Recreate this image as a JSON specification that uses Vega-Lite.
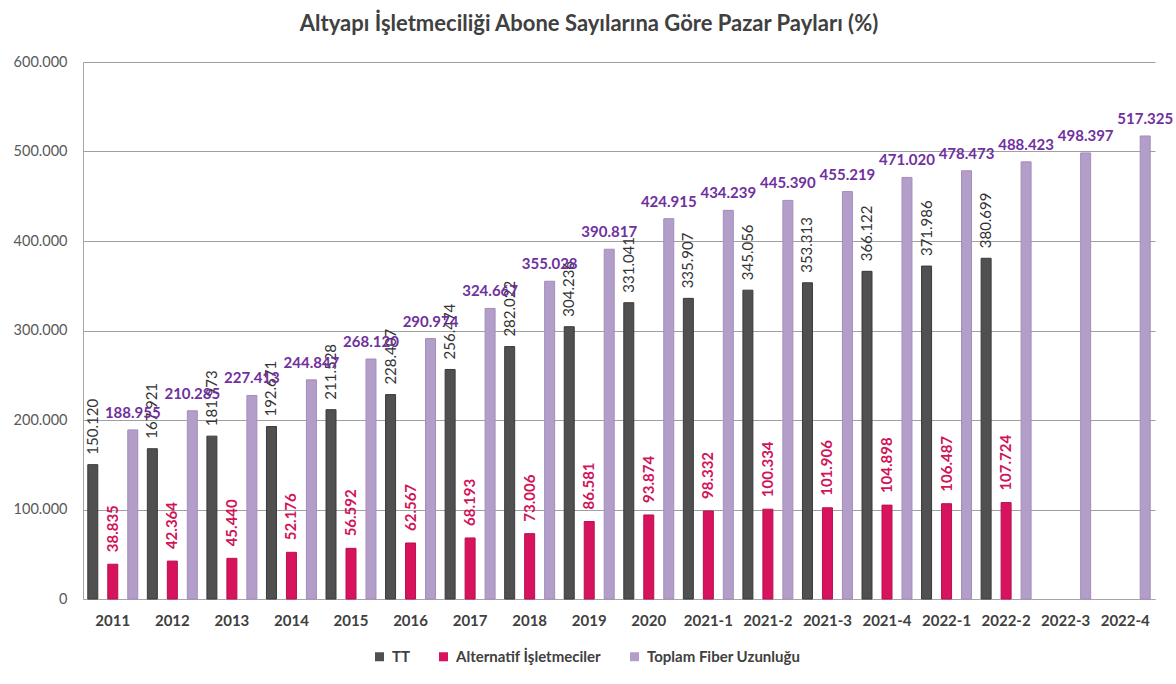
{
  "$schema": "https://vega.github.io/schema/vega-lite/v6.json",
  "autosize": "none",
  "width": 1072,
  "height": 537,
  "padding": {"left": 83, "top": 62, "right": 21, "bottom": 85},
  "background": "white",
  "title": {
    "text": "Altyapı İşletmeciliği Abone Sayılarına Göre Pazar Payları (%)",
    "anchor": "middle",
    "frame": "group",
    "dx": -30,
    "offset": 18,
    "font": "Lato",
    "fontSize": 22,
    "fontWeight": "bold",
    "color": "#404040"
  },
  "config": {
    "locale": {"number": {"decimal": ",", "thousands": ".", "grouping": [3], "currency": ["", ""]}},
    "view": {"stroke": null},
    "font": "Lato"
  },
  "datasets": {
    "rows": [
      {"period": "2011", "series": "TT", "value": 150120},
      {"period": "2012", "series": "TT", "value": 167921},
      {"period": "2013", "series": "TT", "value": 181973},
      {"period": "2014", "series": "TT", "value": 192671},
      {"period": "2015", "series": "TT", "value": 211528},
      {"period": "2016", "series": "TT", "value": 228407},
      {"period": "2017", "series": "TT", "value": 256474},
      {"period": "2018", "series": "TT", "value": 282022},
      {"period": "2019", "series": "TT", "value": 304236},
      {"period": "2020", "series": "TT", "value": 331041},
      {"period": "2021-1", "series": "TT", "value": 335907},
      {"period": "2021-2", "series": "TT", "value": 345056},
      {"period": "2021-3", "series": "TT", "value": 353313},
      {"period": "2021-4", "series": "TT", "value": 366122},
      {"period": "2022-1", "series": "TT", "value": 371986},
      {"period": "2022-2", "series": "TT", "value": 380699},
      {"period": "2011", "series": "Alternatif İşletmeciler", "value": 38835},
      {"period": "2012", "series": "Alternatif İşletmeciler", "value": 42364},
      {"period": "2013", "series": "Alternatif İşletmeciler", "value": 45440},
      {"period": "2014", "series": "Alternatif İşletmeciler", "value": 52176},
      {"period": "2015", "series": "Alternatif İşletmeciler", "value": 56592},
      {"period": "2016", "series": "Alternatif İşletmeciler", "value": 62567},
      {"period": "2017", "series": "Alternatif İşletmeciler", "value": 68193},
      {"period": "2018", "series": "Alternatif İşletmeciler", "value": 73006},
      {"period": "2019", "series": "Alternatif İşletmeciler", "value": 86581},
      {"period": "2020", "series": "Alternatif İşletmeciler", "value": 93874},
      {"period": "2021-1", "series": "Alternatif İşletmeciler", "value": 98332},
      {"period": "2021-2", "series": "Alternatif İşletmeciler", "value": 100334},
      {"period": "2021-3", "series": "Alternatif İşletmeciler", "value": 101906},
      {"period": "2021-4", "series": "Alternatif İşletmeciler", "value": 104898},
      {"period": "2022-1", "series": "Alternatif İşletmeciler", "value": 106487},
      {"period": "2022-2", "series": "Alternatif İşletmeciler", "value": 107724},
      {"period": "2011", "series": "Toplam Fiber Uzunluğu", "value": 188955},
      {"period": "2012", "series": "Toplam Fiber Uzunluğu", "value": 210285},
      {"period": "2013", "series": "Toplam Fiber Uzunluğu", "value": 227413},
      {"period": "2014", "series": "Toplam Fiber Uzunluğu", "value": 244847},
      {"period": "2015", "series": "Toplam Fiber Uzunluğu", "value": 268120},
      {"period": "2016", "series": "Toplam Fiber Uzunluğu", "value": 290974},
      {"period": "2017", "series": "Toplam Fiber Uzunluğu", "value": 324667},
      {"period": "2018", "series": "Toplam Fiber Uzunluğu", "value": 355028},
      {"period": "2019", "series": "Toplam Fiber Uzunluğu", "value": 390817},
      {"period": "2020", "series": "Toplam Fiber Uzunluğu", "value": 424915},
      {"period": "2021-1", "series": "Toplam Fiber Uzunluğu", "value": 434239},
      {"period": "2021-2", "series": "Toplam Fiber Uzunluğu", "value": 445390},
      {"period": "2021-3", "series": "Toplam Fiber Uzunluğu", "value": 455219},
      {"period": "2021-4", "series": "Toplam Fiber Uzunluğu", "value": 471020},
      {"period": "2022-1", "series": "Toplam Fiber Uzunluğu", "value": 478473},
      {"period": "2022-2", "series": "Toplam Fiber Uzunluğu", "value": 488423},
      {"period": "2022-3", "series": "Toplam Fiber Uzunluğu", "value": 498397},
      {"period": "2022-4", "series": "Toplam Fiber Uzunluğu", "value": 517325}
    ]
  },
  "data": {"name": "rows"},
  "encoding": {
    "x": {
      "field": "period",
      "type": "nominal",
      "sort": null,
      "scale": {
        "domain": ["2011", "2012", "2013", "2014", "2015", "2016", "2017", "2018", "2019", "2020", "2021-1", "2021-2", "2021-3", "2021-4", "2022-1", "2022-2", "2022-3", "2022-4"],
        "paddingInner": 0,
        "paddingOuter": 0
      },
      "axis": {
        "title": null,
        "labelAngle": 0,
        "labelFont": "Lato",
        "labelFontSize": 15,
        "labelFontWeight": "bold",
        "labelColor": "#404040",
        "labelPadding": 14,
        "ticks": false,
        "domain": true,
        "domainColor": "#a6a6a6",
        "grid": false
      }
    },
    "xOffset": {
      "field": "series",
      "type": "nominal",
      "scale": {
        "domain": ["TT", "Alternatif İşletmeciler", "Toplam Fiber Uzunluğu"],
        "paddingInner": 0.5,
        "paddingOuter": 0.24
      }
    },
    "y": {
      "field": "value",
      "type": "quantitative",
      "scale": {"domain": [0, 600000], "nice": false},
      "axis": {
        "title": null,
        "values": [0, 100000, 200000, 300000, 400000, 500000, 600000],
        "format": ",d",
        "labelFont": "Lato",
        "labelFontSize": 14.5,
        "labelColor": "#595959",
        "labelPadding": 16,
        "ticks": false,
        "domain": true,
        "domainColor": "#a6a6a6",
        "grid": true,
        "gridColor": "#a0a0a0",
        "gridWidth": 1
      }
    }
  },
  "layer": [
    {
      "mark": {"type": "bar", "strokeWidth": 1},
      "encoding": {
        "color": {
          "field": "series",
          "type": "nominal",
          "scale": {
            "domain": ["TT", "Alternatif İşletmeciler", "Toplam Fiber Uzunluğu"],
            "range": ["#505050", "#d8135e", "#b39dc9"]
          },
          "legend": {
            "title": null,
            "orient": "none",
            "direction": "horizontal",
            "legendX": 289,
            "legendY": 587,
            "symbolType": "square",
            "symbolSize": 81,
            "symbolStrokeWidth": 0,
            "labelFont": "Lato",
            "labelFontSize": 15,
            "labelFontWeight": "bold",
            "labelColor": "#404040",
            "labelOffset": 5,
            "labelLimit": 400,
            "columnPadding": 26,
            "padding": 0
          }
        },
        "stroke": {
          "field": "series",
          "type": "nominal",
          "scale": {
            "domain": ["TT", "Alternatif İşletmeciler", "Toplam Fiber Uzunluğu"],
            "range": ["#3a3a3a", "#b80f4e", "#a48cbd"]
          },
          "legend": null
        }
      }
    },
    {
      "transform": [{"filter": "datum.series === 'TT'"}],
      "mark": {"type": "text", "angle": 270, "align": "left", "baseline": "middle", "dx": 10, "font": "Lato", "fontSize": 15, "color": "#333333"},
      "encoding": {"text": {"field": "value", "type": "quantitative", "format": ",d"}}
    },
    {
      "transform": [{"filter": "datum.series === 'Alternatif İşletmeciler'"}],
      "mark": {"type": "text", "angle": 270, "align": "left", "baseline": "middle", "dx": 12, "font": "Lato", "fontSize": 15, "fontWeight": "bold", "color": "#d0145a"},
      "encoding": {"text": {"field": "value", "type": "quantitative", "format": ",d"}}
    },
    {
      "transform": [{"filter": "datum.series === 'Toplam Fiber Uzunluğu'"}],
      "mark": {"type": "text", "align": "center", "baseline": "alphabetic", "dy": -12, "font": "Lato", "fontSize": 15, "fontWeight": "bold", "color": "#7030a0"},
      "encoding": {"text": {"field": "value", "type": "quantitative", "format": ",d"}}
    }
  ]
}
